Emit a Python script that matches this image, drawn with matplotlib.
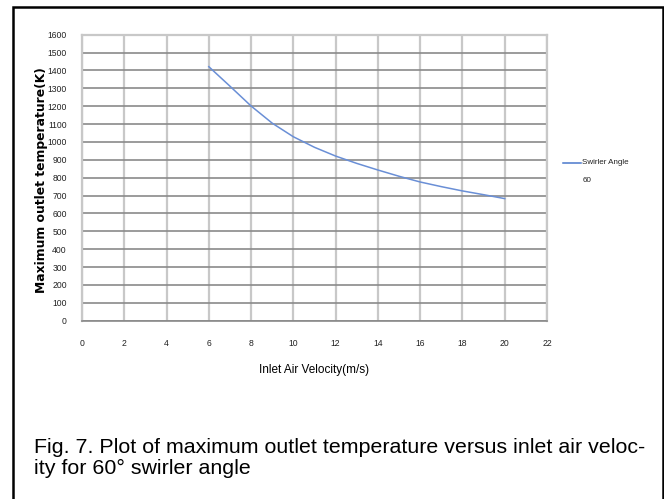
import matplotlib
matplotlib.use("Agg")
import matplotlib.pyplot as plt
from matplotlib.patches import Rectangle

# data
velocity = [6, 7, 8, 9, 10, 11, 12, 13, 14, 15, 16, 17, 18, 19, 20]
max_temp = [1421, 1312, 1201, 1105, 1029, 970, 921, 880, 843, 808, 776, 750, 726, 705, 683]
x_ticks = list(range(0, 23, 2))
y_ticks = list(range(0, 1601, 100))
series_label = "Swirler Angle"
series_label2 = "60"
caption = ("Fig. 7. Plot of maximum outlet temperature versus inlet air veloc-\n"
           "ity for 60\u00b0 swirler angle")

W, H = 664, 499
fig = plt.figure(figsize=(W / 100, H / 100), dpi=100)

def px(x0, y0, x1, y1):
    # pixel box -> figure fraction
    return [x0 / W, 1 - y1 / H, (x1 - x0) / W, (y1 - y0) / H]

sans = ['Liberation Sans', 'DejaVu Sans']

ax = fig.add_axes(px(82, 34.7, 547, 320.7))
ax.plot(velocity, max_temp, color='#6a8fd6', lw=1.1)
ax.set_xlim(0, 22)
ax.set_ylim(0, 1600)
ax.set_xticks(x_ticks)
ax.set_yticks(y_ticks)
ax.set_xticklabels([str(v) for v in x_ticks], family=sans, fontsize=6.2, color='#222222')
ax.set_yticklabels([str(v) for v in y_ticks], family=sans, fontsize=6.2, color='#222222')
ax.tick_params(length=0)
ax.tick_params(axis='y', pad=11)
ax.tick_params(axis='x', pad=13)

ax.grid(True, axis='x', color='#c8c8c8', lw=1.6)
ax.grid(True, axis='y', color='#8a8a8a', lw=1.2)
ax.set_axisbelow(True)
for s in ['top', 'right', 'left']:
    ax.spines[s].set_color('#c8c8c8')
    ax.spines[s].set_linewidth(1.6)
ax.spines['bottom'].set_color('#8a8a8a')
ax.spines['bottom'].set_linewidth(1.2)

ax.set_ylabel("Maximum outlet temperature(K)", fontweight='bold', fontsize=8.9,
              family=['DejaVu Sans'])
ax.yaxis.set_label_coords(-0.074, 0.49)
ax.set_xlabel("Inlet Air Velocity(m/s)", family=sans, fontsize=8.5, labelpad=12)

# legend
fig.lines.append(plt.Line2D([563 / W, 581 / W], [1 - 163 / H, 1 - 163 / H],
                            color='#4a78cc', lw=1.1, transform=fig.transFigure))
fig.text(582 / W, 1 - 163 / H, series_label, family=sans, fontsize=5.8,
         va='center', color='#222222')
fig.text(583 / W, 1 - 180 / H, series_label2, family=sans, fontsize=5.8,
         va='center', color='#222222')

# caption
fig.text(34 / W, 1 - 458 / H, caption, family=sans,
         fontsize=15.4, va='center', linespacing=1.12)

# outer frame
fig.patches.append(Rectangle((12.5 / W, -0.05), (662.5 - 12.5) / W, 1.05 - 6.5 / H,
                             transform=fig.transFigure, fill=False,
                             edgecolor='black', lw=1.8))

fig.savefig("out.png", dpi=100)
